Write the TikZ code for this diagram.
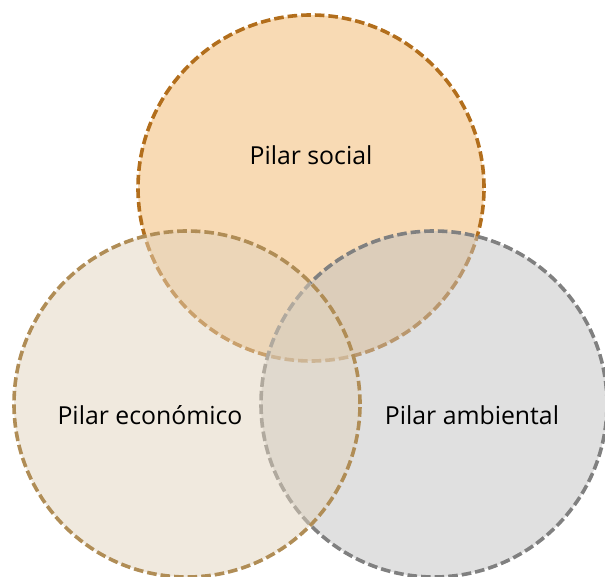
\documentclass[tikz,border=0pt]{standalone}
\usepackage{fontspec}
\setmainfont{Open Sans}
\definecolor{socfill}{RGB}{248,218,180}
\definecolor{socline}{RGB}{178,110,28}
\definecolor{ecofill}{RGB}{225,211,189}
\definecolor{ecoline}{RGB}{176,141,86}
\definecolor{ambfill}{RGB}{193,193,193}
\definecolor{ambline}{RGB}{128,128,128}
\begin{document}
\begin{tikzpicture}[x=0.5pt,y=-0.5pt,
  pilar/.style={circle, inner sep=0pt, minimum size=173pt, line width=1.8pt,
    dash pattern=on 4.8pt off 2pt},
  lbl/.style={font=\fontsize{12.4}{15}\selectfont, text=black}]
\useasboundingbox (0,0) rectangle (605,577);
\node[pilar, draw=socline, fill=socfill] (soc) at (311,188) {};
\node[pilar, draw=ambline, fill=ambfill, fill opacity=0.5, draw opacity=1] (amb) at (434,404) {};
\node[pilar, draw=ecoline, fill=ecofill, fill opacity=0.5, draw opacity=1] (eco) at (187,404) {};
\node[lbl] (tsoc) at (311,155) {Pilar social};
\node[lbl] (teco) at (150,415) {Pilar económico};
\node[lbl] (tamb) at (472,415) {Pilar ambiental};
\end{tikzpicture}
\end{document}
